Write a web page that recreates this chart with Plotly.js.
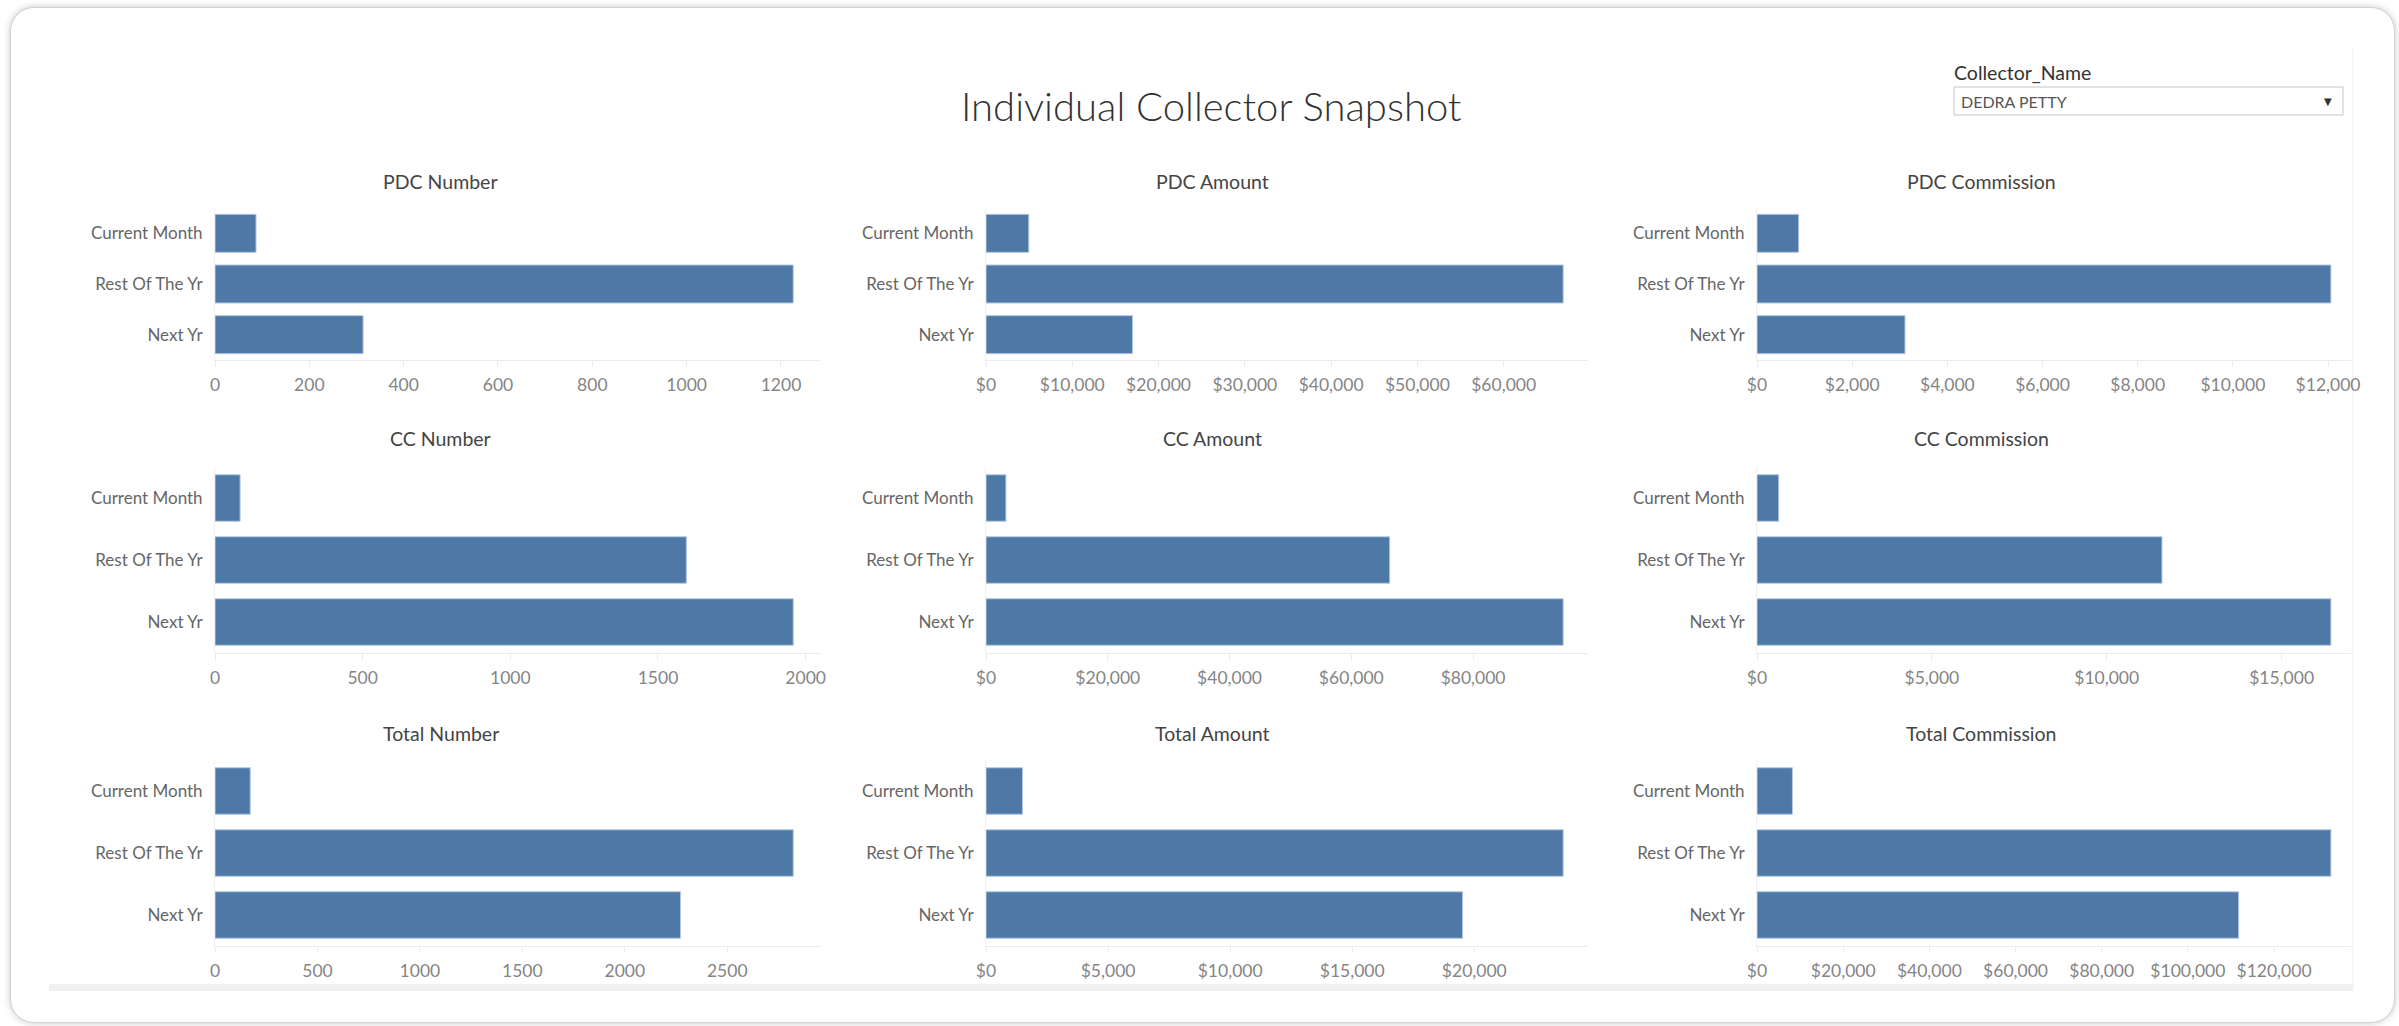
<!DOCTYPE html>
<html>
<head>
<meta charset="utf-8">
<script src="https://cdn.plot.ly/plotly-3.0.1.min.js"></script>
<style>
html,body{margin:0;padding:0;background:#fff;width:2399px;height:1026px;overflow:hidden;}
#card{position:absolute;left:10px;top:7px;width:2383px;height:1014px;border:1px solid #d2d2d2;border-radius:24px;box-shadow:0 0 7px rgba(0,0,0,0.22);background:#fff;}
#chart{position:absolute;left:0;top:0;width:2399px;height:1026px;}
</style>
</head>
<body>
<div id="card"></div>
<div id="chart"></div>
<script>
// ---- data ----
const categories = ["Current Month", "Rest Of The Yr", "Next Yr"];

const pdcNumber      = [87, 1226, 314];
const pdcAmount      = [4960, 66900, 16980];
const pdcCommission  = [875, 12060, 3110];

const ccNumber       = [85, 1596, 1958];
const ccAmount       = [3270, 66300, 94800];
const ccCommission   = [621, 11580, 16410];

const totalNumber     = [172, 2822, 2272];
const totalAmount     = [1496, 23640, 19520];
const totalCommission = [8230, 133200, 111780];

const panelTitles = [
  "PDC Number", "PDC Amount", "PDC Commission",
  "CC Number", "CC Amount", "CC Commission",
  "Total Number", "Total Amount", "Total Commission"
];
const panelValues = [
  pdcNumber, pdcAmount, pdcCommission,
  ccNumber, ccAmount, ccCommission,
  totalNumber, totalAmount, totalCommission
];
const panelIsMoney = [false, true, true, false, true, true, false, true, true];
const panelDtick = [200, 10000, 2000, 500, 20000, 5000, 500, 5000, 20000];

const dashboardTitle = "Individual Collector Snapshot";
const filterLabel = "Collector_Name";
const filterValue = "DEDRA PETTY";

// ---- layout geometry (pixels) ----
const W = 2399, H = 1026;
const colPx = [[215, 821], [986, 1588], [1757, 2351]];
const rowPx = [[208, 360], [467, 653], [760, 946]];
const titleXPx = [441, 1212, 1981];
const titleYPx = [182, 439, 733];
const rangePad = [1.048, 1.043, 1.035];
const fx = p => p / W;
const fy = p => 1 - p / H;

const FONT = "Lato, 'Open Sans', sans-serif";
const data = [];
const layout = {
  width: W, height: H,
  margin: {l: 0, r: 0, t: 0, b: 0, pad: 0},
  paper_bgcolor: "rgba(0,0,0,0)",
  plot_bgcolor: "rgba(0,0,0,0)",
  showlegend: false,
  bargap: 0.25,
  font: {family: FONT, color: "#555"},
  annotations: [],
  shapes: []
};

for (let i = 0; i < 9; i++) {
  const r = Math.floor(i / 3), c = i % 3;
  const n = i === 0 ? "" : String(i + 1);
  const vals = panelValues[i];
  const vmax = Math.max(...vals);
  data.push({
    type: "bar", orientation: "h",
    y: categories, x: vals,
    xaxis: "x" + n, yaxis: "y" + n,
    marker: {color: "#4e79a7", line: {color: "#b4c8df", width: 1}},
    hoverinfo: "skip"
  });
  layout["xaxis" + n] = {
    domain: [fx(colPx[c][0]), fx(colPx[c][1])],
    anchor: "y" + n,
    range: [0, vmax * rangePad[c]],
    dtick: panelDtick[i], tick0: 0,
    tickprefix: panelIsMoney[i] ? "$" : "",
    tickformat: panelIsMoney[i] ? ",d" : "d",
    showgrid: false, zeroline: false,
    showline: true, linecolor: "#ebebeb", linewidth: 1,
    ticks: "outside", ticklen: 6, tickcolor: "#ebebeb", tickwidth: 1,
    tickfont: {family: FONT, size: 17.5, color: "#858585"},
    ticklabelstandoff: 3,
    fixedrange: true
  };
  layout["yaxis" + n] = {
    domain: [fy(rowPx[r][1]), fy(rowPx[r][0])],
    anchor: "x" + n,
    type: "category",
    categoryorder: "array", categoryarray: categories,
    autorange: "reversed",
    showgrid: false, zeroline: false,
    showline: true, linecolor: "#f0f0f0", linewidth: 1,
    ticks: "",
    tickfont: {family: FONT, size: 17, color: "#666"},
    ticklabelstandoff: 8,
    fixedrange: true
  };
  layout.annotations.push({
    xref: "paper", yref: "paper",
    x: fx(titleXPx[c]), y: fy(titleYPx[r]),
    xanchor: "center", yanchor: "middle",
    text: panelTitles[i], showarrow: false,
    font: {family: FONT, size: 19.5, color: "#444"}
  });
}

// dashboard title
layout.annotations.push({
  xref: "paper", yref: "paper",
  x: fx(1211), y: fy(106),
  xanchor: "center", yanchor: "middle",
  text: dashboardTitle, showarrow: false,
  font: {family: FONT, size: 40, color: "#333", weight: 300}
});
// filter control
layout.annotations.push({
  xref: "paper", yref: "paper",
  x: fx(1952), y: fy(72),
  xanchor: "left", yanchor: "middle",
  text: filterLabel, showarrow: false,
  font: {family: FONT, size: 19.5, color: "#333"}
});
layout.annotations.push({
  xref: "paper", yref: "paper",
  x: fx(1959), y: fy(101.5),
  xanchor: "left", yanchor: "middle",
  text: filterValue, showarrow: false,
  font: {family: FONT, size: 16, color: "#555"}
});
layout.annotations.push({
  xref: "paper", yref: "paper",
  x: fx(2328), y: fy(101),
  xanchor: "center", yanchor: "middle",
  text: "\u25BC", showarrow: false,
  font: {family: "DejaVu Sans", size: 10, color: "#333"}
});
layout.shapes.push({
  type: "rect", xref: "paper", yref: "paper",
  x0: fx(1954), x1: fx(2343), y0: fy(115), y1: fy(87),
  line: {color: "#c4c4c4", width: 1}, fillcolor: "rgba(0,0,0,0)", layer: "below"
});
// dashboard frame details
layout.shapes.push({
  type: "rect", xref: "paper", yref: "paper",
  x0: fx(49), x1: fx(2353), y0: fy(991), y1: fy(984),
  line: {width: 0}, fillcolor: "#f0f0f0", layer: "below"
});
layout.shapes.push({
  type: "line", xref: "paper", yref: "paper",
  x0: fx(2353), x1: fx(2353), y0: fy(991), y1: fy(48),
  line: {color: "#efefef", width: 1}, layer: "below"
});

Plotly.newPlot("chart", data, layout, {staticPlot: true, displayModeBar: false});
</script>
</body>
</html>
